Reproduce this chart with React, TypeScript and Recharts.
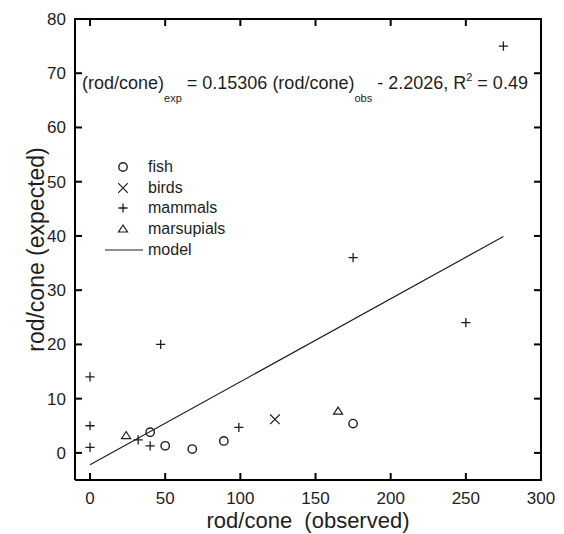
import React from "react"
import { Legend, Scatter, ScatterChart, XAxis, YAxis } from "recharts"

// values
const xTicks = [0, 50, 100, 150, 200, 250, 300]
const yTicks = [0, 10, 20, 30, 40, 50, 60, 70, 80]
const xRange = [-10, 300]
const yRange = [-5, 80]

const fishObs = [40, 50, 68, 89, 175]
const fishExp = [3.8, 1.3, 0.7, 2.2, 5.4]
const birdsObs = [123]
const birdsExp = [6.2]
const mammalsObs = [0, 0, 0, 32, 40, 47, 99, 175, 250, 275]
const mammalsExp = [14, 5, 1, 2.4, 1.3, 20, 4.7, 36, 24, 75]
const marsupialsObs = [24, 165]
const marsupialsExp = [3.2, 7.7]
// regression line end points
const modelObs = [0, 275]
const modelExp = [-2.2, 39.9]

const INK = "#1e1e1e"
const FRAME = "#000"
const FONT = "'Liberation Sans', Arial, sans-serif"
const TICK = 7

const zip = (xs: number[], ys: number[]) => xs.map((x, i) => ({ x, y: ys[i] }))

const fish = zip(fishObs, fishExp)
const birds = zip(birdsObs, birdsExp)
const mammals = zip(mammalsObs, mammalsExp)
const marsupials = zip(marsupialsObs, marsupialsExp)
const model = zip(modelObs, modelExp)

// box around the plot and the inward tick marks, placed through the chart scales
const [x0, x1] = xRange
const [y0, y1] = yRange
const frame = zip([x0, x1, x1, x0, x0], [y0, y0, y1, y1, y0])
const bottomTicks = xTicks.map((x) => ({ x, y: y0 }))
const topTicks = xTicks.map((x) => ({ x, y: y1 }))
const leftTicks = yTicks.map((y) => ({ x: x0, y }))
const rightTicks = yTicks.map((y) => ({ x: x1, y }))

const tickMark = (dx: number, dy: number) => ({ cx, cy }: any) => (
  <path d={`M${cx},${cy}l${dx},${dy}`} stroke={FRAME} strokeWidth={2} fill="none" />
)

function BottomLabel({ x, y, payload }: any) {
  return (
    <text x={x} y={y + 24} textAnchor="middle" fontSize={17} fill={INK}>
      {payload.value}
    </text>
  )
}

function LeftLabel({ x, y, payload }: any) {
  return (
    <text x={x - 9} y={y + 6} textAnchor="end" fontSize={17} fill={INK}>
      {payload.value}
    </text>
  )
}

function CircleMark({ cx, cy }: any) {
  return <circle cx={cx} cy={cy} r={4.2} fill="none" stroke={INK} strokeWidth={1.4} />
}

function CrossMark({ cx, cy }: any) {
  const s = 4.8
  return (
    <path
      d={`M${cx - s},${cy - s}L${cx + s},${cy + s}M${cx - s},${cy + s}L${cx + s},${cy - s}`}
      stroke={INK}
      strokeWidth={1.2}
      fill="none"
    />
  )
}

function PlusMark({ cx, cy }: any) {
  const s = 4.6
  return (
    <path
      d={`M${cx - s},${cy}L${cx + s},${cy}M${cx},${cy - s}L${cx},${cy + s}`}
      stroke={INK}
      strokeWidth={1.3}
      fill="none"
    />
  )
}

function TriangleMark({ cx, cy }: any) {
  return (
    <path
      d={`M${cx},${cy - 4}L${cx + 4.5},${cy + 3}L${cx - 4.5},${cy + 3}Z`}
      stroke={INK}
      strokeWidth={1.2}
      fill="none"
    />
  )
}

const legendRows = [
  { name: "fish", Mark: CircleMark },
  { name: "birds", Mark: CrossMark },
  { name: "mammals", Mark: PlusMark },
  { name: "marsupials", Mark: TriangleMark },
  { name: "model", Mark: null },
]

function LegendBox() {
  return (
    <div style={{ fontFamily: FONT, fontSize: 16, color: INK }}>
      {legendRows.map(({ name, Mark }) => (
        <div key={name} style={{ display: "flex", alignItems: "center", height: 20.6 }}>
          <svg width={42} height={20} style={{ display: "block" }}>
            {Mark ? <Mark cx={21} cy={10} /> : <line x1={3} x2={41} y1={10} y2={10} stroke={INK} strokeWidth={1.2} />}
          </svg>
          <span style={{ marginLeft: 4, lineHeight: "20px" }}>{name}</span>
        </div>
      ))}
    </div>
  )
}

const noMark = () => <g />

export default function App() {
  return (
    <div style={{ position: "relative", width: 564, height: 534, fontFamily: FONT, background: "#fff" }}>
      <style>{`body{margin:0}`}</style>
      <ScatterChart width={564} height={534} margin={{ top: 19, right: 23, bottom: 0, left: 0 }}>
        <XAxis
          type="number"
          dataKey="x"
          domain={xRange}
          ticks={xTicks}
          interval={0}
          height={54}
          axisLine={false}
          tickLine={false}
          tickSize={0}
          tickMargin={0}
          tick={BottomLabel}
          label={{
            value: "rod/cone\u00A0\u00A0(observed)",
            position: "center",
            dy: 13,
            fontSize: 22,
            fill: INK,
          }}
        />
        <YAxis
          type="number"
          dataKey="y"
          domain={yRange}
          ticks={yTicks}
          interval={0}
          width={75}
          axisLine={false}
          tickLine={false}
          tickSize={0}
          tickMargin={0}
          tick={LeftLabel}
          label={{
            value: "rod/cone (expected)",
            angle: -90,
            position: "center",
            dx: -2,
            fontSize: 23,
            fill: INK,
          }}
        />
        <Legend
          layout="vertical"
          align="center"
          verticalAlign="middle"
          wrapperStyle={{ left: 102, top: 157, width: 150 }}
          content={() => <LegendBox />}
        />
        <Scatter name="frame" data={frame} shape={noMark} line={{ stroke: FRAME, strokeWidth: 2 }} isAnimationActive={false} />
        <Scatter name="bottomTicks" data={bottomTicks} shape={tickMark(0, -TICK)} isAnimationActive={false} />
        <Scatter name="topTicks" data={topTicks} shape={tickMark(0, TICK)} isAnimationActive={false} />
        <Scatter name="leftTicks" data={leftTicks} shape={tickMark(TICK, 0)} isAnimationActive={false} />
        <Scatter name="rightTicks" data={rightTicks} shape={tickMark(-TICK, 0)} isAnimationActive={false} />
        <Scatter name="model" data={model} shape={noMark} line={{ stroke: INK, strokeWidth: 1.2 }} isAnimationActive={false} />
        <Scatter name="fish" data={fish} shape={CircleMark} isAnimationActive={false} />
        <Scatter name="birds" data={birds} shape={CrossMark} isAnimationActive={false} />
        <Scatter name="mammals" data={mammals} shape={PlusMark} isAnimationActive={false} />
        <Scatter name="marsupials" data={marsupials} shape={TriangleMark} isAnimationActive={false} />
      </ScatterChart>
      <svg width={564} height={120} style={{ position: "absolute", left: 0, top: 0, pointerEvents: "none" }}>
        <text x={82} y={89} fontSize={18} fill={INK} fontFamily={FONT}>
          (rod/cone)
          <tspan dy={13} fontSize={11}>exp</tspan>
          <tspan dy={-13}> = 0.15306 (rod/cone)</tspan>
          <tspan dy={13} fontSize={11}>obs</tspan>
          <tspan dy={-13}> - 2.2026, R</tspan>
          <tspan dy={-8} fontSize={11}>2</tspan>
          <tspan dy={8}> = 0.49</tspan>
        </text>
      </svg>
    </div>
  )
}
